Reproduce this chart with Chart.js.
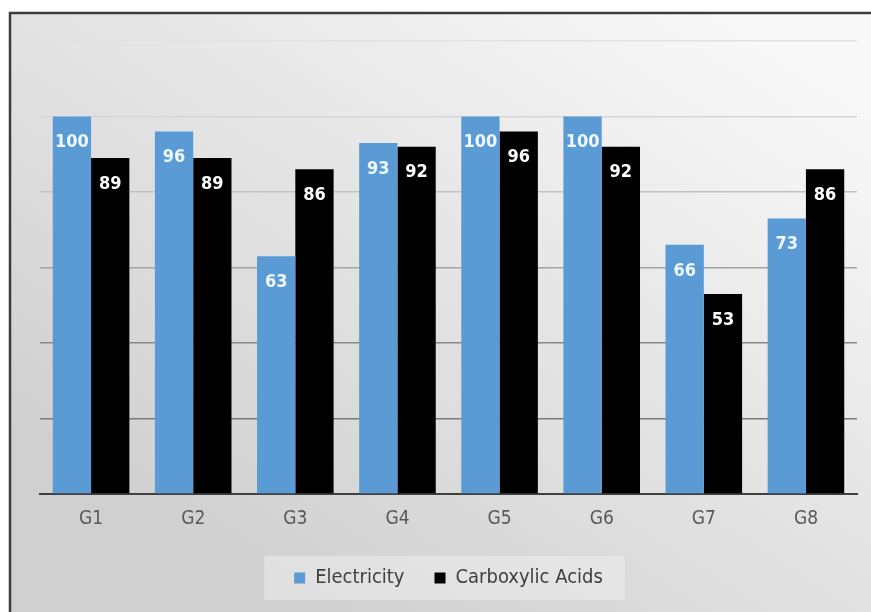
<!DOCTYPE html>
<html lang="en">
<head>
    <meta charset="UTF-8">
    <title>Electricity vs Carboxylic Acids</title>
    <script src="https://cdn.jsdelivr.net/npm/chart.js"></script>
    <style>
        html, body { margin: 0; padding: 0; background: #ffffff; }
        #wrap { width: 871px; height: 612px; }
    </style>
</head>
<body>
    <div id="wrap"><canvas id="barChart" width="871" height="612"></canvas></div>

    <script>
// Dados do gráfico
const groups = ["G1", "G2", "G3", "G4", "G5", "G6", "G7", "G8"];
const electricity = [100, 96, 63, 93, 100, 100, 66, 73];
const carboxylicAcids = [89, 89, 86, 92, 96, 92, 53, 86];
const seriesNames = ["Electricity", "Carboxylic Acids"];

const FONT = '"DejaVu Sans Condensed", "Liberation Sans Narrow", "DejaVu Sans", sans-serif';
const labelColors = ["#eef8ff", "#ffffff"];

// fundo cinza com borda escura (como no Excel)
const backgroundPlugin = {
    id: "frameBg",
    beforeDraw(chart) {
        const ctx = chart.ctx;
        ctx.save();
        const g = ctx.createLinearGradient(700, 0, 300, 612);
        g.addColorStop(0, "#f8f8f8");
        g.addColorStop(0.45, "#e6e6e6");
        g.addColorStop(1, "#d0d0d0");
        ctx.fillStyle = g;
        ctx.fillRect(10, 13, 880, 620);
        ctx.strokeStyle = "#3c3c3c";
        ctx.lineWidth = 2.5;
        ctx.strokeRect(10, 13, 880, 620);

        // caixa da legenda
        const boxes = chart.legend.legendHitBoxes;
        if (boxes && boxes.length) {
            const left = boxes[0].left - 30;
            const last = boxes[boxes.length - 1];
            const right = last.left + last.width + 22;
            const top = boxes[0].top - 12;
            ctx.fillStyle = "rgba(240,240,240,0.5)";
            ctx.fillRect(left, top, right - left, boxes[0].height + 24);
        }
        ctx.restore();
    }
};

// rótulos de valor dentro das barras
const valueLabels = {
    id: "valueLabels",
    afterDatasetsDraw(chart) {
        const ctx = chart.ctx;
        ctx.save();
        ctx.font = 'bold 18px ' + FONT;
        ctx.textAlign = "center";
        ctx.textBaseline = "middle";
        chart.data.datasets.forEach((ds, i) => {
            chart.getDatasetMeta(i).data.forEach((bar, j) => {
                ctx.fillStyle = labelColors[i];
                ctx.fillText(ds.data[j], bar.x, bar.y + 26);
            });
        });
        ctx.restore();
    }
};

const gridColors = {0: "#404040", 20: "#7a7a7a", 40: "#888888", 60: "#a4a4a4", 80: "#c2c2c2", 100: "#d6d6d6", 120: "#e2e2e2"};

new Chart(document.getElementById("barChart"), {
    type: "bar",
    data: {
        labels: groups,
        datasets: [
            { label: seriesNames[0], data: electricity, backgroundColor: "#5b9bd5", borderWidth: 0 },
            { label: seriesNames[1], data: carboxylicAcids, backgroundColor: "#000000", borderWidth: 0 }
        ]
    },
    options: {
        responsive: false,
        animation: false,
        layout: { padding: { left: 40, right: 14, top: 41, bottom: 14 } },
        datasets: { bar: { categoryPercentage: 0.75, barPercentage: 1.0 } },
        plugins: {
            tooltip: { enabled: false },
            legend: {
                position: "bottom",
                labels: {
                    boxWidth: 11,
                    boxHeight: 11,
                    padding: 30,
                    color: "#404040",
                    font: { family: FONT, size: 20 }
                }
            }
        },
        scales: {
            x: {
                grid: { display: false, drawTicks: false },
                border: { display: true, color: "#404040", width: 2 },
                ticks: { color: "#595959", padding: 14, font: { family: FONT, size: 19 } },
                afterFit(scale) { scale.height = 44; }
            },
            y: {
                min: 0,
                max: 120,
                ticks: { display: false, stepSize: 20 },
                border: { display: false },
                grid: {
                    drawTicks: false,
                    color: (c) => gridColors[c.tick.value] || "#bbbbbb",
                    lineWidth: 1.5
                },
                afterFit(scale) { scale.width = 0; }
            }
        }
    },
    plugins: [backgroundPlugin, valueLabels]
});
    </script>
</body>
</html>
